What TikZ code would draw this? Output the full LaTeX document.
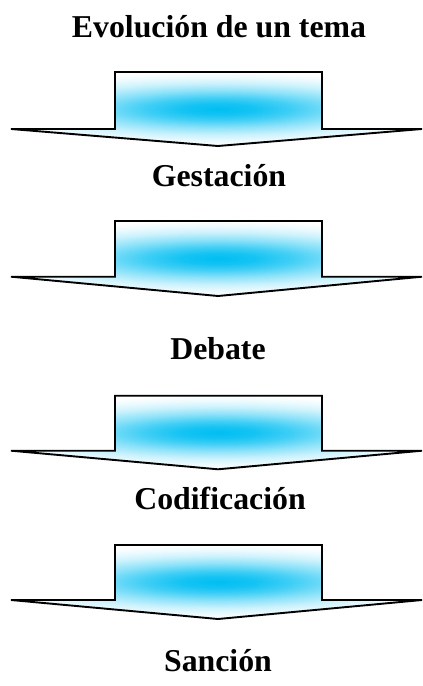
\documentclass[tikz,border=0pt]{standalone}
\usepackage{fontspec}
\setmainfont{Liberation Serif}
\begin{document}
\definecolor{glow}{RGB}{0,190,242}
% Elliptical glow: radius 100bp reaches the edge of the arrow's box
\pgfdeclareradialshading{blueglow}{\pgfpoint{0bp}{0bp}}{%
  color(0bp)=(glow); color(15bp)=(glow!92!white); color(30bp)=(glow!75!white);
  color(50bp)=(glow!45!white); color(70bp)=(glow!20!white); color(85bp)=(glow!8!white);
  color(100bp)=(white); color(200bp)=(white)}
\begin{tikzpicture}[x=1pt,y=-1pt,
  stage/.style={font=\fontsize{31.8}{38}\selectfont\bfseries, anchor=base, inner sep=0pt},
  outline/.style={draw=black, line width=1.9pt, line join=miter, miter limit=2}]
  \useasboundingbox (0,0) rectangle (423,686);

  % Titles of each stage
  \node[stage] (title) at (219,37.7) {Evolución de un tema};
  \node[stage] (gest)  at (219,186.7) {Gestación};
  \node[stage] (deb)   at (218,359.3) {Debate};
  \node[stage] (cod)   at (220,509) {Codificación};
  \node[stage] (sanc)  at (218,671.7) {Sanción};

  % Block arrow: top edge at #1, shoulder at #2, tip at #3
  \newcommand{\arrowoutline}[3]{(115,#1) -- (322,#1) -- (322,#2) -- (422,#2)
      -- (218,#3) -- (11,#2) -- (115,#2) -- cycle}
  \newcommand{\stagearrow}[3]{%
    \begin{scope}
      \clip \arrowoutline{#1}{#2}{#3};
      \begin{scope}[shift={(218,{(#1+#3)/2})}, xscale=2.45, yscale={((#3)-(#1))/200}]
        \pgflowlevelsynccm
        \pgfuseshading{blueglow}
      \end{scope}
    \end{scope}
    \draw[outline] \arrowoutline{#1}{#2}{#3};}
  \stagearrow{72}{129}{146}
  \stagearrow{221}{276.7}{296}
  \stagearrow{395.7}{450.7}{469.3}
  \stagearrow{545}{600}{619}
\end{tikzpicture}
\end{document}
